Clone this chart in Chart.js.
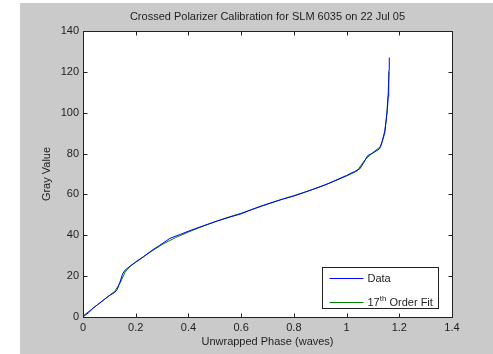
<!DOCTYPE html>
<html lang="en">
  <head>
    <meta charset="UTF-8" />
    <title>Crossed Polarizer Calibration</title>
    <script src="https://cdn.jsdelivr.net/npm/chart.js@4.4.1/dist/chart.umd.min.js"></script>
    <style>
      html, body { margin: 0; padding: 0; background: #ffffff; }
      #wrap { position: relative; width: 493px; height: 354px; }
    </style>
  </head>
  <body>
    <div id="wrap">
      <canvas id="myChart" width="493" height="354"></canvas>
    </div>

    <script>
      // measured data (phase in waves vs gray value)
      var dataPhase = [0, 0.02, 0.04, 0.06, 0.08, 0.10, 0.12, 0.13, 0.14, 0.15, 0.16, 0.18, 0.20, 0.23, 0.26, 0.29,
        0.33, 0.37, 0.41, 0.46, 0.51, 0.56, 0.60, 0.64, 0.68, 0.72, 0.76, 0.80, 0.84, 0.88, 0.92, 0.96, 1.00,
        1.03, 1.05, 1.065, 1.08, 1.10, 1.125, 1.135, 1.145, 1.150, 1.155, 1.158, 1.160, 1.161, 1.162];
      var dataGray = [0, 2, 4.5, 6.5, 8.5, 10.5, 12, 13.5, 17, 21, 23, 25, 26.8, 29.5, 32.5, 35,
        38.5, 40.5, 42.5, 44.8, 47, 49, 50.5, 52.6, 54.5, 56.2, 57.8, 59.2, 61, 62.8, 64.7, 67, 69.3,
        71.2, 72.5, 75.5, 79, 80.3, 82.3, 86, 91, 96, 102, 108, 115, 121, 127];

      // 17th order polynomial fit
      var fitPhase = [0, 0.03, 0.06, 0.09, 0.12, 0.14, 0.16, 0.18, 0.20, 0.25, 0.30, 0.35, 0.40, 0.45, 0.50,
        0.55, 0.60, 0.65, 0.70, 0.75, 0.80, 0.85, 0.90, 0.95, 1.00, 1.04, 1.07, 1.10, 1.13, 1.145, 1.153, 1.158, 1.161];
      var fitGray = [0.5, 3.5, 6.5, 9.5, 12.5, 16.5, 22, 25, 27, 31.3, 35.5, 38.8, 41.6, 44.2, 46.6,
        48.8, 50.8, 53, 55.2, 57.4, 59.4, 61.5, 63.8, 66.3, 69, 71.5, 77, 80.5, 83.5, 90, 100, 110, 120];

      var seriesLabels = ["Data", "17th Order Fit"];
      var seriesColors = ["#0000ff", "#008000"];

      var chartTitle = "Crossed Polarizer Calibration for SLM 6035 on 22 Jul 05";
      var xTitle = "Unwrapped Phase (waves)";
      var yTitle = "Gray Value";

      function toPoints(xs, ys) {
        var pts = [];
        for (var i = 0; i < xs.length; i++) {
          pts.push({ x: xs[i], y: ys[i] });
        }
        return pts;
      }

      var fontFamily = "'Liberation Sans', Arial, sans-serif";
      var textColor = "#1e1e1e";

      // matlab style figure: gray figure, white axes, box with inward ticks, legend box
      var matlabPlugin = {
        id: "matlab",
        beforeDraw: function (chart) {
          var ctx = chart.ctx;
          var ca = chart.chartArea;
          ctx.save();
          ctx.fillStyle = "#cacaca";
          ctx.fillRect(20, 3, chart.width - 20, chart.height - 3);
          ctx.fillStyle = "#ffffff";
          ctx.fillRect(ca.left, ca.top, ca.right - ca.left, ca.bottom - ca.top);
          ctx.restore();
        },
        afterDraw: function (chart) {
          var ctx = chart.ctx;
          var ca = chart.chartArea;
          var xs = chart.scales.x;
          var ys = chart.scales.y;
          ctx.save();

          // title
          ctx.fillStyle = textColor;
          ctx.font = "11px " + fontFamily;
          ctx.textAlign = "center";
          ctx.textBaseline = "middle";
          ctx.fillText(chartTitle, (ca.left + ca.right) / 2, 17);

          // box and ticks
          ctx.strokeStyle = "#222222";
          ctx.lineWidth = 1;
          var L = Math.round(ca.left) + 0.5, R = Math.round(ca.right) + 0.5;
          var T = Math.round(ca.top) + 0.5, B = Math.round(ca.bottom) + 0.5;
          ctx.strokeRect(L, T, R - L, B - T);
          var tl = 4;
          ctx.beginPath();
          xs.ticks.forEach(function (t) {
            var px = Math.round(xs.getPixelForValue(t.value)) + 0.5;
            ctx.moveTo(px, B); ctx.lineTo(px, B - tl);
            ctx.moveTo(px, T); ctx.lineTo(px, T + tl);
          });
          ys.ticks.forEach(function (t) {
            var py = Math.round(ys.getPixelForValue(t.value)) + 0.5;
            ctx.moveTo(L, py); ctx.lineTo(L + tl, py);
            ctx.moveTo(R, py); ctx.lineTo(R - tl, py);
          });
          ctx.stroke();

          // legend
          var w = 116, h = 41;
          var lx = Math.round(ca.right - 14 - w) + 0.5;
          var ly = Math.round(ca.bottom - 9 - h) + 0.5;
          ctx.fillStyle = "#ffffff";
          ctx.fillRect(lx, ly, w, h);
          ctx.strokeStyle = "#222222";
          ctx.strokeRect(lx, ly, w, h);

          var rows = [ly + 10.5, ly + 34];
          ctx.textAlign = "left";
          ctx.textBaseline = "middle";
          for (var i = 0; i < seriesLabels.length; i++) {
            var yy = Math.round(rows[i]) + 0.5;
            ctx.strokeStyle = seriesColors[i];
            ctx.beginPath();
            ctx.moveTo(lx + 7, yy);
            ctx.lineTo(lx + 41, yy);
            ctx.stroke();
            ctx.fillStyle = textColor;
            var tx = lx + 45;
            var m = seriesLabels[i].match(/^(\d+)(th)(.*)$/);
            if (m) {
              ctx.font = "11px " + fontFamily;
              ctx.fillText(m[1], tx, yy);
              tx += ctx.measureText(m[1]).width;
              ctx.font = "8px " + fontFamily;
              ctx.fillText(m[2], tx, yy - 4);
              tx += ctx.measureText(m[2]).width;
              ctx.font = "11px " + fontFamily;
              ctx.fillText(m[3], tx, yy);
            } else {
              ctx.font = "11px " + fontFamily;
              ctx.fillText(seriesLabels[i], tx, yy);
            }
          }
          ctx.restore();
        },
      };

      var ctx = document.getElementById("myChart").getContext("2d");
      var myChart = new Chart(ctx, {
        type: "line",
        data: {
          datasets: [
            {
              label: seriesLabels[0],
              data: toPoints(dataPhase, dataGray),
              borderColor: seriesColors[0],
              borderWidth: 1,
              pointRadius: 0,
              tension: 0,
            },
            {
              label: seriesLabels[1],
              data: toPoints(fitPhase, fitGray),
              borderColor: seriesColors[1],
              borderWidth: 1,
              pointRadius: 0,
              tension: 0,
            },
          ],
        },
        options: {
          responsive: false,
          animation: false,
          devicePixelRatio: 1,
          layout: { padding: { left: 20, top: 31, right: 41, bottom: 0 } },
          plugins: {
            legend: { display: false },
            title: { display: false },
            tooltip: { enabled: false },
          },
          scales: {
            x: {
              type: "linear",
              min: 0,
              max: 1.4,
              border: { display: false },
              grid: { display: false, drawTicks: false },
              ticks: {
                stepSize: 0.2,
                padding: 4,
                maxRotation: 0,
                color: textColor,
                font: { family: fontFamily, size: 11 },
                callback: function (v) { return String(Math.round(v * 10) / 10); },
              },
              title: {
                display: true,
                text: xTitle,
                color: textColor,
                font: { family: fontFamily, size: 11 },
                padding: { top: 0, bottom: 5 },
              },
              afterFit: function (scale) { scale.height = 37; },
            },
            y: {
              min: 0,
              max: 140,
              border: { display: false },
              grid: { display: false, drawTicks: false },
              ticks: {
                stepSize: 20,
                padding: 4,
                color: textColor,
                font: { family: fontFamily, size: 11 },
              },
              title: {
                display: true,
                text: yTitle,
                color: textColor,
                font: { family: fontFamily, size: 11 },
                padding: { top: 20, bottom: 0 },
              },
              afterFit: function (scale) { scale.width = 63; },
            },
          },
        },
        plugins: [matlabPlugin],
      });
    </script>
  </body>
</html>
